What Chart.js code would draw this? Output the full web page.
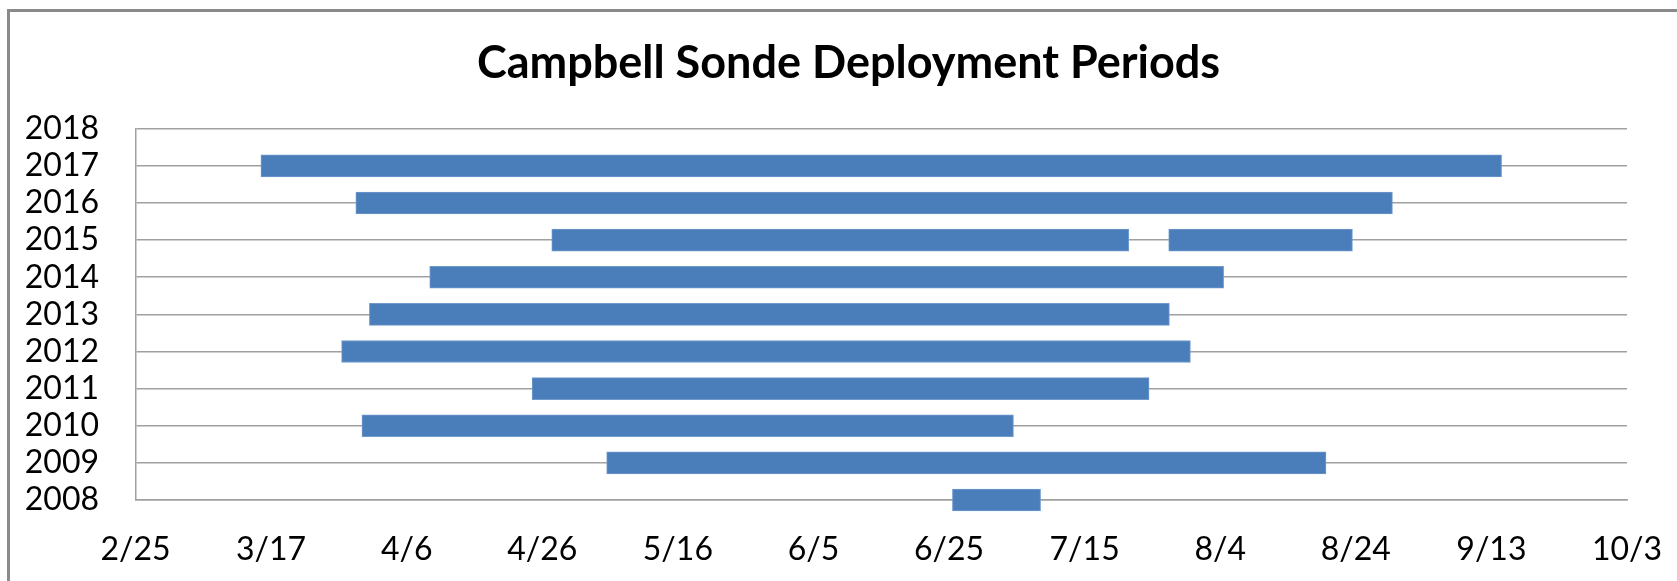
<!DOCTYPE html>
<html>
<head>
<meta charset="utf-8">
<script src="https://cdn.jsdelivr.net/npm/chart.js@4.4.1/dist/chart.umd.min.js"></script>
<style>
html,body{margin:0;padding:0;background:#fff;overflow:hidden;}
canvas{display:block;}
</style>
</head>
<body>
<canvas id="c" width="1677" height="581"></canvas>
<script>
// Categories (top to bottom)
const years = ['2018','2017','2016','2015','2014','2013','2012','2011','2010','2009','2008'];
// Deployment periods, in days after 2/25
const startDays = [null, 18.5, 32.5, 61.4, 43.4, 34.5, 30.4, 58.5, 33.4, 69.5, 120.5];
const endDays   = [null, 201.5, 185.4, 146.5, 160.5, 152.5, 155.6, 149.5, 129.5, 175.6, 133.5];
// Second 2015 deployment period
const secondStart = [null, null, null, 152.4, null, null, null, null, null, null, null];
const secondEnd   = [null, null, null, 179.5, null, null, null, null, null, null, null];
// X axis tick labels (every 20 days)
const xTickLabels = ['2/25','3/17','4/6','4/26','5/16','6/5','6/25','7/15','8/4','8/24','9/13','10/3'];
const xMin = 0, xMax = 220, xStep = 20;

const pairs = (s, e) => s.map((v, i) => (v == null ? null : [v, e[i]]));

const barStyle = {
  backgroundColor: '#4A7EBB',
  borderColor: '#7099CC',
  borderWidth: 1,
  borderSkipped: false,
  barThickness: 22,
  grouped: false,
  clip: false
};

const framePlugin = {
  id: 'frame',
  beforeDraw(chart) {
    const ctx = chart.ctx;
    ctx.save();
    ctx.fillStyle = '#fff';
    ctx.fillRect(0, 0, chart.width, chart.height);
    ctx.fillStyle = '#8a8a8a';
    ctx.fillRect(7, 9, 3, chart.height);
    ctx.fillRect(7, 9, chart.width, 3);
    ctx.restore();
  }
};

new Chart(document.getElementById('c'), {
  type: 'bar',
  data: {
    labels: years,
    datasets: [
      Object.assign({ label: 'Deployment', data: pairs(startDays, endDays) }, barStyle),
      Object.assign({ label: 'Deployment 2', data: pairs(secondStart, secondEnd) }, barStyle)
    ]
  },
  plugins: [framePlugin],
  options: {
    indexAxis: 'y',
    responsive: false,
    devicePixelRatio: 1,
    animation: false,
    layout: { padding: { left: 26, right: 6, top: 0, bottom: 0 } },
    plugins: {
      legend: { display: false },
      tooltip: { enabled: false },
      title: {
        display: true,
        text: 'Campbell Sonde Deployment Periods',
        color: '#000',
        font: { family: 'Lato', weight: 'bold', size: 45, lineHeight: 1.2 },
        padding: { top: 36, bottom: 38.7 }
      }
    },
    scales: {
      x: {
        type: 'linear',
        min: xMin, max: xMax,
        grid: { display: false, drawTicks: false },
        border: { display: true, color: '#A0A0A0', width: 1.5 },
        ticks: {
          stepSize: xStep,
          padding: 30,
          color: '#000',
          font: { family: 'Lato', size: 32, lineHeight: 1.2 },
          maxRotation: 0,
          autoSkip: false,
          callback: (v) => xTickLabels[Math.round((v - xMin) / xStep)]
        },
        afterFit: (scale) => {
          scale.height = 81;
          scale.paddingLeft = 0;
          scale.paddingRight = 0;
        }
      },
      y: {
        type: 'category',
        offset: false,
        grid: { display: true, drawTicks: false, color: '#A0A0A0', lineWidth: 1.5, offset: false },
        border: { display: true, color: '#A0A0A0', width: 1.5 },
        ticks: {
          padding: 36.5,
          autoSkip: false,
          color: '#000',
          font: { family: 'Lato', size: 32, lineHeight: 1.2 }
        },
        afterFit: (scale) => { scale.width = 109.5; }
      },
      yRight: {
        type: 'category',
        position: 'right',
        offset: false,
        grid: { display: false, drawTicks: false },
        border: { display: false },
        ticks: { display: false },
        afterFit: (scale) => { scale.width = 44; }
      }
    }
  }
});
</script>
</body>
</html>
